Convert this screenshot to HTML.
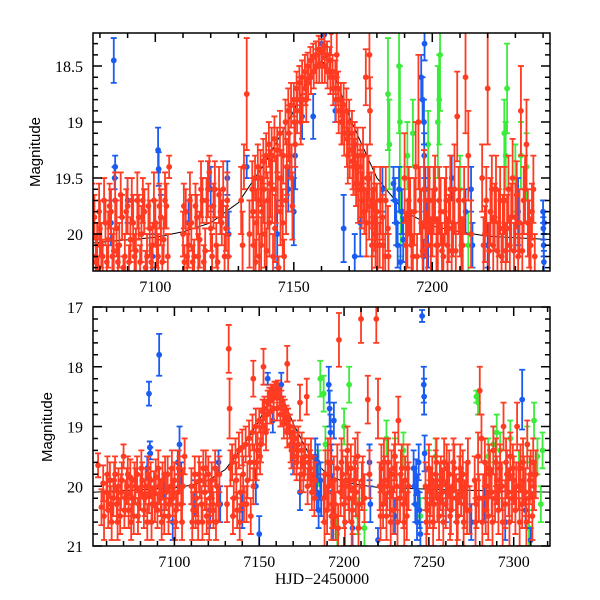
<!DOCTYPE html>
<html><head><meta charset="utf-8"><style>
body{margin:0;background:#fff;}
svg{display:block;}
.tk{font-family:"Liberation Serif",serif;font-size:16px;fill:#000;}
.ax{font-family:"Liberation Sans",sans-serif;font-size:15px;fill:#000;}
</style></head><body>
<svg id="chart" width="600" height="600" viewBox="0 0 600 600" xmlns="http://www.w3.org/2000/svg">
<defs>
<clipPath id="c1"><rect x="93" y="33" width="457" height="238"/></clipPath>
<clipPath id="c2"><rect x="93" y="307" width="457" height="239"/></clipPath>
</defs>
<g id="p1"></g>
<g id="p2"></g>
<text class="ax" transform="translate(40,152) rotate(-90)" text-anchor="middle">Magnitude</text>
<text class="ax" transform="translate(52,427) rotate(-90)" text-anchor="middle">Magnitude</text>
<text class="tk" x="322" y="584" text-anchor="middle">HJD−2450000</text>
</svg>
<script>
// ---- data ----
const modelTop = [[7077,20.08],[7100,20.03],[7110,19.98],[7120,19.9],[7130,19.72],[7140,19.35],[7150,18.9],[7155,18.62],[7160,18.45],[7165,18.6],[7170,18.95],[7180,19.5],[7190,19.8],[7200,19.93],[7210,19.98],[7220,20.02],[7243,20.05]];
const modelBot = [[7052,20.1],[7100,20.03],[7110,19.98],[7120,19.9],[7130,19.72],[7140,19.35],[7150,18.9],[7155,18.62],[7160,18.45],[7165,18.6],[7170,18.95],[7180,19.5],[7190,19.8],[7200,19.93],[7210,19.98],[7220,20.02],[7260,20.06],[7322,20.1]];

const redTop = [[7077,20.0,.2],[7077.5,20.25,.15],[7078,19.85,.2],[7079,20.1,.2],[7079.5,20.3,.1],[7080,19.95,.25],[7081,20.2,.15],[7082,19.9,.2],[7083,20.05,.25],[7084,19.8,.2],[7085,20.15,.2],[7086,19.95,.25],[7087,20.1,.2],[7088,19.85,.2],[7088.5,20.3,.1],[7089,20.2,.2],[7090,19.75,.25],[7091,20.05,.2],[7092,19.9,.25],[7093,20.15,.2],[7094,19.85,.2],[7095,20.0,.25],[7096,19.8,.2],[7096.5,20.3,.15],[7097,20.2,.2],[7098,19.95,.25],[7099,20.1,.2],[7100,19.9,.2],[7101,20.2,.2],[7102,19.85,.25],[7103,20.05,.2],[7104,19.75,.2],[7105,19.4,.1],
[7110,20.0,.2],[7110.5,20.25,.15],[7111,19.8,.2],[7112,20.1,.2],[7113,19.9,.25],[7114,20.2,.15],[7115,19.85,.2],[7116,20.05,.25],[7117,19.7,.2],[7118,20.15,.2],[7119,19.6,.25],[7119.5,19.45,.15],[7120,19.95,.2],[7121,19.75,.2],[7122,20.1,.2],[7123,19.65,.25],[7124,19.9,.2],[7125,20.2,.2],[7126,19.7,.25],
[7131,19.7,.3],[7131.5,20.1,.3],[7132,19.4,.2],[7133,18.75,.5],[7134,20.0,.3],
[7135,19.6,.25],[7135.5,20.1,.25],[7136,19.5,.2],[7136.5,19.9,.3],[7137,19.4,.2],[7137.5,20.2,.2],[7138,19.5,.25],[7138.5,19.8,.3],[7139,19.35,.2],[7139.5,20.0,.3],[7140,19.3,.2],[7140.5,19.7,.25],[7141,19.2,.2],[7141.5,19.55,.3],[7142,19.3,.25],[7142.5,20.2,.2],[7143,19.15,.2],[7143.5,19.6,.3],[7144,19.25,.2],[7144.5,20.3,.1],[7145,19.1,.2],[7145.5,19.5,.25],[7146,19.9,.3],[7146.5,20.2,.15],[7147,19.0,.2],[7147.5,19.4,.25],[7148,18.9,.2],[7148.5,19.3,.2],[7149,18.85,.2],[7149.5,19.75,.3],[7150,18.8,.15],[7150.5,19.2,.2],[7151,18.7,.15],[7152,18.65,.15],[7152.5,19.0,.2],[7153,18.6,.15],[7154,18.55,.15],[7154.5,18.8,.2],[7155,18.5,.12],[7156,18.45,.12],[7157,18.42,.12],[7158,18.4,.12],[7159,18.35,.12],[7160,18.38,.12],[7161,18.32,.12],[7162,18.4,.12],[7163,18.45,.12],[7163.5,18.2,.2],[7164,18.55,.15],[7165,18.6,.15],[7165.5,18.4,.2],[7166,18.7,.15],[7167,18.8,.15],[7167.5,19.0,.2],[7168,18.85,.2],[7169,18.9,.2],[7169.5,19.3,.25],[7170,19.0,.2],[7171,19.1,.2],[7171.5,19.4,.25],[7172,19.2,.2],[7172.5,19.55,.2],[7173,19.3,.25],[7174,19.4,.2],[7174.5,19.7,.25],[7175,19.3,.25],[7175.5,19.8,.2],[7176,18.6,.25],[7176.5,19.5,.3],[7177,19.5,.2],[7177.3,18.4,.3],[7177.5,18.9,.3],[7178,19.7,.25],[7178.5,19.9,.3],[7179,19.6,.2],[7179.5,20.0,.3],[7180,19.8,.25],[7181,20.1,.2],[7182,19.85,.2],[7183,20.2,.2],[7184,19.95,.2],
[7190,19.5,.4],[7191,20.0,.3],[7192,19.8,.3],[7193,20.2,.2],[7194,19.4,.4],[7195,19.0,.6],[7196,19.9,.3],[7197,19.6,.35],[7198,20.1,.3],[7199,19.7,.3],[7200,19.9,.3],[7201,19.6,.3],[7202,20.1,.25],[7203,19.8,.3],[7204,20.2,.2],[7205,19.7,.3],[7206,19.95,.3],[7207,20.15,.25],[7208,19.6,.4],[7209,18.95,.4],[7210,19.9,.3],[7211,20.1,.25],[7212,18.6,.5],[7213,19.3,.4],[7214,20.0,.3],
[7218,19.5,.3],[7219,20.0,.25],[7220,18.7,.5],[7221,19.8,.3],[7222,20.1,.25],[7223,19.6,.3],[7224,19.9,.3],[7225,20.2,.2],[7226,19.7,.3],[7227,19.95,.3],[7228,20.1,.25],[7229,19.5,.35],[7230,19.85,.3],[7231,20.2,.2],[7232,18.9,.4],[7233,19.7,.3],[7234,19.2,.4],[7235,20.0,.3],[7236,19.8,.25],[7237,20.2,.2]];

const redTop2 = [[7077.3,19.75,.2],[7078.5,20.2,.2],[7079.7,19.8,.25],[7080.5,20.1,.2],[7081.5,19.7,.2],[7082.5,20.25,.15],[7083.5,19.75,.2],[7084.5,20.2,.2],[7085.5,19.7,.25],[7086.5,20.25,.15],[7087.5,19.65,.2],[7089.5,19.8,.2],[7090.5,20.25,.15],[7091.5,19.7,.2],[7092.5,20.2,.2],[7093.5,19.7,.25],[7094.5,20.25,.15],[7095.5,19.7,.2],[7097.5,19.75,.2],[7098.5,20.25,.15],[7099.5,19.7,.25],[7100.5,20.1,.2],[7101.5,19.75,.2],[7102.5,20.25,.15],[7103.5,19.7,.25],[7104.5,20.2,.2],
[7110.3,19.75,.2],[7111.5,20.2,.2],[7112.5,19.7,.25],[7113.5,20.25,.15],[7114.5,19.75,.2],[7115.5,20.2,.2],[7116.5,19.6,.25],[7117.5,20.25,.15],[7118.5,19.7,.2],[7120.5,20.2,.2],[7121.5,19.6,.25],[7122.5,20.25,.15],[7123.5,19.8,.2],[7124.5,19.6,.25],[7125.5,19.95,.2],[7126.3,20.2,.2],
[7135.3,19.8,.3],[7136.2,20.25,.2],[7137.2,19.7,.3],[7138.2,20.1,.25],[7139.2,19.6,.3],[7140.2,20.15,.2],[7141.2,19.9,.3],[7142.2,19.6,.3],[7143.2,19.95,.3],[7144.2,19.5,.3],[7145.2,19.8,.3],[7146.2,19.3,.25],[7147.2,19.7,.3],[7148.2,19.1,.25],[7149.2,19.5,.3],[7150.2,19.0,.2],[7151.2,18.9,.2],[7152.2,18.8,.2],[7153.2,18.8,.2],[7154.2,18.7,.15],[7155.2,18.65,.15],[7156.2,18.6,.15],[7157.2,18.55,.15],[7158.2,18.5,.15],[7159.2,18.5,.15],[7160.2,18.5,.15],[7161.2,18.5,.15],[7162.2,18.55,.15],[7163.2,18.6,.15],[7164.2,18.7,.15],[7165.2,18.8,.2],[7166.2,18.9,.2],[7167.2,19.0,.2],[7168.2,19.1,.2],[7169.2,19.15,.25],[7170.2,19.25,.25],[7171.2,19.35,.25],[7172.2,19.4,.25],[7173.2,19.6,.3],[7174.2,19.55,.3],[7175.2,19.6,.3],[7176.2,19.9,.3],[7177.2,19.75,.3],[7178.2,20.1,.25],[7179.2,19.85,.3],[7180.2,20.1,.25],[7181.2,19.7,.3],[7182.2,20.1,.25],[7183.2,19.7,.3],[7184.2,20.2,.2],
[7190.5,20.1,.3],[7191.5,19.7,.3],[7192.5,20.1,.3],[7193.5,19.8,.3],[7194.5,20.2,.2],[7195.5,19.7,.3],[7196.5,20.15,.25],[7197.5,19.9,.3],[7198.5,19.7,.3],[7199.5,20.1,.25],[7200.5,19.7,.3],[7201.5,20.1,.25],[7202.5,19.7,.3],[7203.5,20.15,.25],[7204.5,19.8,.3],[7205.5,20.1,.25],[7206.5,19.6,.3],[7207.5,19.9,.3],[7208.5,20.15,.25],[7209.5,19.7,.3],[7210.5,20.1,.25],[7211.5,19.7,.3],
[7218.5,20.1,.25],[7219.5,19.7,.3],[7220.5,20.15,.25],[7221.5,19.6,.3],[7222.5,19.85,.3],[7223.5,20.15,.25],[7224.5,19.7,.3],[7225.5,19.95,.3],[7226.5,20.15,.25],[7227.5,19.6,.3],[7228.5,19.85,.3],[7229.5,20.15,.25],[7230.5,19.65,.3],[7231.5,19.9,.3],[7232.5,20.15,.25],[7233.5,19.6,.3],[7234.5,19.9,.3],[7235.5,20.1,.25],[7236.5,19.6,.3]];

const blueTop = [[7085,18.45,.2],[7085.5,19.4,.1],[7085.3,19.5,.1],[7084,19.9,.2],[7090,19.7,.2],[7096,19.8,.2],[7101,19.25,.2],[7101.2,19.42,.15],[7102,19.85,.2],[7099,20.2,.2],[7112,19.9,.2],[7120,19.6,.2],[7126,19.5,.15],[7126.5,20.0,.2],[7133,19.4,.1],[7144,20.0,.3],[7148,19.6,.2],[7150,19.8,.3],[7150.5,19.3,.3],[7153,18.95,.2],[7157,18.95,.2],[7160,18.3,.2],[7161,18.22,.2],[7165,18.9,.1],[7168,19.95,.3],[7172,20.2,.2],[7174,19.9,.3],[7182,19.6,.2],
[7186,19.55,.15],[7186.5,19.7,.2],[7187,19.9,.2],[7187.5,20.1,.2],[7188,19.6,.2],[7188.5,20.25,.15],[7189,19.8,.2],[7189.5,20.05,.2],
[7196,18.6,.2],[7196.5,18.8,.2],[7197,19.0,.2],[7197.1,19.3,.2],[7197.5,19.6,.2],[7198,19.9,.2],[7196.8,20.2,.15],[7197.2,18.3,.15],[7198.5,20.1,.2],[7207,19.5,.2],[7212,19.8,.2],[7214,19.6,.2],[7214.5,20.1,.2],[7220,20.1,.2],[7231,19.8,.3],
[7240,19.8,.1],[7240.1,19.95,.1],[7240.2,20.1,.1],[7240.3,20.25,.1],[7240.4,19.9,.1]];

const greenTop = [[7184,18.75,.5],[7184.5,19.2,.4],[7188,18.5,.6],[7188.3,19.0,.5],[7188.6,19.8,.4],[7191,19.3,.3],[7193,19.1,.3],[7198.5,19.2,.3],[7202,19.0,.5],[7202.5,18.8,.4],[7202.8,18.4,.5],[7210,19.6,.3],[7213,20.1,.3],[7226,19.1,.3],[7226.5,19.3,.3],[7227,18.7,.4],[7230,19.5,.3],[7232,19.3,.3],[7234,19.4,.3]];

const redBot = [[7055,19.65,.2],[7057,20.35,.3],[7058,19.95,.3],[7058.5,20.5,.4],[7060,20.1,.3],[7061,20.4,.3],[7062,19.9,.3],[7063,20.6,.3],[7064,20.2,.3],[7065,19.8,.3],[7066,20.3,.3],[7067,20.0,.3],[7068,20.5,.3],[7069,19.9,.3],[7070,19.5,.2],[7071,20.2,.3],[7072,20.0,.3],[7073,20.4,.3],[7074,19.85,.3],[7075,20.2,.3],[7076,20.5,.3],[7077,20.0,.3],[7078,19.8,.3],[7079,20.3,.3],[7080,20.1,.3],[7081,19.9,.3],[7082,20.4,.3],[7083,20.0,.3],[7084,20.6,.3],[7085,20.15,.3],[7086,19.9,.3],[7087,20.3,.3],[7088,20.05,.3],[7089,19.85,.3],[7090,20.4,.3],[7091,20.0,.3],[7092,20.2,.3],[7093,19.9,.3],[7094,20.5,.3],[7095,20.1,.3],[7096,19.8,.3],[7097,20.3,.3],[7098,20.0,.3],[7099,20.2,.3],[7100,19.9,.3],[7101,20.4,.3],[7102,20.1,.3],[7103,19.8,.3],[7104,20.3,.3],[7105,20.0,.3],[7106,19.5,.3],
[7110,20.0,.3],[7111,20.4,.3],[7112,19.8,.3],[7113,20.2,.3],[7114,20.6,.3],[7115,19.9,.3],[7116,20.3,.3],[7117,19.7,.3],[7118,20.1,.3],[7119,20.5,.3],[7120,19.8,.3],[7121,20.2,.3],[7122,19.9,.3],[7123,20.4,.3],[7124,19.7,.3],[7125,20.0,.3],[7126,20.3,.3],
[7131,20.3,.3],[7132,17.7,.4],[7132.5,18.7,.5],[7133,19.7,.3],
[7134,19.6,.3],[7135,20.2,.3],[7136,19.5,.3],[7137,20.4,.3],[7138,19.4,.3],[7139,20.1,.3],[7140,19.35,.3],[7141,20.3,.3],[7142,19.3,.3],[7143,19.9,.3],[7144,19.2,.3],[7145,20.5,.3],[7146,19.1,.3],[7146.5,18.2,.3],[7147,19.6,.3],[7148,19.0,.3],[7149,19.4,.3],[7150,18.9,.2],[7151,19.3,.3],[7152,18.75,.2],[7152.5,18.0,.3],[7153,18.7,.2],[7154,19.1,.3],[7155,18.6,.2],[7156,18.5,.15],[7157,18.45,.15],[7158,18.45,.15],[7159,18.4,.15],[7160,18.4,.15],[7161,18.38,.15],[7162,18.5,.15],[7163,18.55,.15],[7164,18.7,.2],[7165,18.75,.2],[7166,18.85,.2],[7166.5,17.95,.3],[7167,18.9,.2],[7168,19.0,.2],[7169,19.4,.3],[7170,19.1,.2],[7171,19.2,.2],[7172,19.6,.3],[7173,19.3,.3],[7174,18.6,.3],[7175,19.4,.3],[7176,19.8,.3],[7177,19.5,.3],[7178,18.5,.3],[7179,19.6,.3],[7180,19.7,.3],[7181,20.1,.3],[7182,19.8,.3],[7183,19.9,.3],
[7188,20.2,.4],[7189,19.8,.4],[7190,20.4,.4],[7191,20.0,.4],[7192,19.6,.4],[7193,20.3,.4],[7194,19.9,.4],[7195,20.5,.4],[7196,19.7,.4],[7197,17.55,.45],[7198,20.1,.4],[7199,19.8,.4],[7200,20.3,.4],[7201,19.9,.4],[7202,19.4,.4],[7203,20.2,.4],[7204,19.7,.4],[7205,20.4,.4],[7206,19.9,.4],[7207,20.1,.4],[7208,19.5,.4],[7209,20.3,.4],[7210,17.2,.4],[7211,19.9,.4],[7212,20.2,.4],[7214,18.55,.4],[7215,19.8,.4],
[7219,17.2,.4],[7220,18.7,.5],[7221,20.0,.4],[7222,19.7,.4],[7223,20.3,.4],[7224,19.9,.4],[7225,20.5,.4],[7226,19.6,.4],[7227,20.1,.4],[7228,19.8,.4],[7229,20.4,.4],[7230,19.5,.4],[7231,20.0,.4],[7232,18.9,.4],[7233,20.2,.4],[7234,19.7,.4],[7235,20.3,.4],[7236,19.9,.4],[7237,20.5,.4],[7238,20.0,.4],
[7248,20.0,.4],[7249,20.4,.4],[7250,19.7,.4],[7251,20.1,.4],[7252,19.9,.4],[7253,20.3,.4],[7254,19.8,.4],[7255,20.2,.4],[7256,20.5,.4],[7257,19.9,.4],[7258,20.1,.4],[7259,19.6,.4],[7260,20.3,.4],[7261,20.0,.4],[7262,19.8,.4],[7263,20.4,.4],[7264,20.0,.4],[7265,19.7,.4],[7266,20.2,.4],[7267,20.5,.4],[7268,19.9,.4],[7269,20.1,.4],[7270,19.8,.4],[7271,20.3,.4],[7272,20.0,.4],[7273,19.6,.4],[7274,20.4,.4],
[7277,19.9,.4],[7278,20.3,.4],[7279,19.5,.4],[7280,18.4,.4],[7281,19.2,.4],[7282,20.2,.4],[7283,19.6,.4],[7284,20.0,.4],[7285,20.5,.4],[7286,19.8,.4],[7287,20.1,.4],[7288,19.4,.4],[7289,20.2,.4],[7290,19.9,.4],[7291,20.4,.4],[7292,19.7,.4],[7293,20.0,.4],[7294,19.0,.4],[7295,20.3,.4],[7296,19.8,.4],[7297,20.1,.4],[7298,19.5,.4],[7299,20.2,.4],[7300,19.9,.4],[7301,20.4,.4],[7302,19.0,.4],[7303,20.0,.4],[7304,19.7,.4],[7305,20.3,.4],[7306,19.9,.4],[7307,20.1,.4],[7308,19.3,.4],[7309,20.2,.4],[7310,19.8,.4],[7311,20.5,.4],[7312,20.0,.4],[7313,19.8,.4]];

const redBot2 = [[7060.5,19.8,.3],[7062.5,20.3,.3],[7064.5,19.9,.3],[7066.5,20.6,.3],[7068.5,20.1,.3],[7070.5,20.4,.3],[7072.5,19.8,.3],[7074.5,20.6,.3],[7076.5,19.9,.3],[7078.5,20.5,.3],[7080.5,19.7,.3],[7082.5,20.2,.3],[7084.5,19.8,.3],[7086.5,20.6,.3],[7088.5,20.3,.3],[7090.5,19.7,.3],[7092.5,20.6,.3],[7094.5,19.8,.3],[7096.5,20.5,.3],[7098.5,19.7,.3],[7100.5,20.6,.3],[7102.5,19.7,.3],[7104.5,20.6,.3],
[7110.5,20.6,.3],[7112.5,20.4,.3],[7114.5,19.8,.3],[7116.5,20.6,.3],[7118.5,19.7,.3],[7120.5,20.6,.3],[7122.5,20.3,.3],[7124.5,20.6,.3],[7126.5,19.8,.3],
[7134.5,20.5,.3],[7136.5,19.9,.3],[7138.5,20.6,.3],[7140.5,19.8,.3],[7142.5,20.3,.3],[7144.5,19.6,.3],[7146.5,20.0,.3],[7148.5,19.6,.3],[7150.5,19.5,.3],[7152.2,19.0,.3],[7154.5,18.8,.25],[7156.5,18.75,.2],[7158.5,18.7,.2],[7160.5,18.7,.2],[7162.5,18.8,.2],[7164.5,18.95,.25],[7166.5,19.1,.25],[7168.5,19.3,.3],[7170.5,19.5,.3],[7172.5,19.4,.3],[7174.5,19.8,.3],[7176.5,19.6,.3],[7178.5,20.0,.3],[7180.5,19.5,.3],[7182.5,20.2,.3],
[7188.5,20.6,.4],[7190.5,19.6,.4],[7192.5,20.5,.4],[7194.5,20.3,.4],[7196.5,20.7,.4],[7198.5,19.6,.4],[7200.5,20.6,.4],[7202.5,20.0,.4],[7204.5,20.6,.4],[7206.5,19.6,.4],[7208.5,20.7,.4],[7210.5,20.0,.4],
[7221.5,20.5,.4],[7223.5,19.6,.4],[7225.5,20.0,.4],[7227.5,20.6,.4],[7229.5,19.7,.4],[7231.5,20.6,.4],[7233.5,19.8,.4],[7235.5,20.6,.4],[7237.5,19.7,.4],
[7248.5,20.6,.4],[7250.5,20.3,.4],[7252.5,20.6,.4],[7254.5,19.6,.4],[7256.5,20.0,.4],[7258.5,20.6,.4],[7260.5,19.7,.4],[7262.5,20.5,.4],[7264.5,19.6,.4],[7266.5,20.6,.4],[7268.5,19.7,.4],[7270.5,20.6,.4],[7272.5,20.4,.4],
[7277.5,20.6,.4],[7279.5,20.2,.4],[7281.5,20.6,.4],[7283.5,20.4,.4],[7285.5,19.7,.4],[7287.5,20.6,.4],[7289.5,19.6,.4],[7291.5,20.0,.4],[7293.5,20.6,.4],[7295.5,19.6,.4],[7297.5,20.6,.4],[7299.5,19.7,.4],[7301.5,20.0,.4],[7303.5,20.6,.4],[7305.5,19.6,.4],[7307.5,20.6,.4],[7309.5,19.9,.4],[7311.5,19.6,.4]];

const blueBot = [[7085,18.45,.2],[7091,17.8,.35],[7085.5,19.35,.1],[7085.8,19.45,.1],[7084,19.7,.2],[7094,20.1,.3],[7103,19.3,.3],[7102,19.6,.2],[7104,19.8,.2],[7099,20.6,.3],[7112,20.2,.3],[7121,20.4,.3],[7126,19.6,.2],[7127,20.3,.3],[7140,20.4,.3],[7148,20.0,.3],[7150,20.8,.3],[7155,18.2,.1],[7158,18.9,.2],[7163,18.3,.2],[7170,19.5,.3],[7174,20.1,.3],
[7183,19.5,.3],[7183.5,19.8,.3],[7184,20.1,.3],[7184.5,19.6,.3],[7185,20.4,.3],[7186,19.9,.3],[7186.5,20.2,.3],[7191,18.3,.3],[7191.5,18.7,.3],[7192,19.1,.3],[7192.5,19.6,.3],[7193,20.1,.3],[7193.5,20.6,.3],[7194,18.9,.3],[7205,20.7,.3],[7215,19.6,.3],[7215.5,20.3,.3],[7220,20.9,.2],[7230,20.5,.3],
[7241,19.7,.3],[7241.5,20.0,.3],[7242,20.3,.3],[7242.5,19.85,.3],[7243,20.6,.3],[7243.5,20.1,.3],[7244,19.6,.3],[7244.5,20.4,.3],[7245,20.8,.2],[7246,17.15,.1],[7247,18.3,.3],[7247.2,18.5,.3],[7247.5,19.45,.3],[7260,20.3,.3],[7275,20.6,.3],[7283,20.3,.3],[7295,20.6,.3],[7305,18.55,.5],[7307,20.4,.3],[7310,20.9,.2]];

const greenBot = [[7186,18.2,.3],[7188,18.45,.3],[7185,19.7,.3],[7189,19.3,.3],[7196,20.8,.3],[7200,19.0,.3],[7203,18.3,.3],[7208,20.5,.3],[7212,20.7,.3],[7225,19.2,.3],[7230,19.5,.3],[7235,19.4,.3],[7245,20.5,.3],[7250,19.7,.3],[7254,19.5,.3],[7278,18.5,.1],[7279,18.6,.2],[7285,19.5,.3],[7288,19.3,.3],[7290,19.1,.3],[7292,19.4,.3],[7298,19.2,.3],[7303,19.7,.3],[7308,19.3,.3],[7312,18.9,.3],[7314,19.5,.3],[7316,20.3,.3],[7317,19.4,.3],[7309,20.7,.3]];

const xTicksTop = [7100,7150,7200];
const yTicksTop = [18.5,19,19.5,20];
const xTicksBot = [7100,7150,7200,7250,7300];
const yTicksBot = [17,18,19,20,21];

// ---- drawing ----
const NS = "http://www.w3.org/2000/svg";
const RED="#ff3b22", BLUE="#1a5cf2", GREEN="#3bec3b";
function mk(tag, attrs, parent){const e=document.createElementNS(NS,tag);for(const k in attrs)e.setAttribute(k,attrs[k]);parent.appendChild(e);return e;}

function panel(g, box, xd, yd, clip, model, series, xTicks, yTicks, xMinor, yMinor, yLabelFmt){
  const X=t=>box.x+(t-xd[0])/(xd[1]-xd[0])*box.w;
  const Y=m=>box.y+(m-yd[0])/(yd[1]-yd[0])*box.h;
  const data=mk('g',{'clip-path':'url(#'+clip+')'},g);
  
  
  const mp=mk('polyline',{points:model.map(p=>X(p[0]).toFixed(1)+','+Y(p[1]).toFixed(1)).join(' '),fill:'none',stroke:'#000','stroke-width':1},data);
  
  
  series.forEach(s=>{
    const sg=mk('g',{},data);
    
    
    s.pts.forEach(p=>{
      const x=X(p[0]), y0=Y(p[1]-p[2]), y1=Y(p[1]+p[2]), y=Y(p[1]);
      const eb=mk('path',{d:`M${x},${y0}V${y1}M${x-3},${y0}h6M${x-3},${y1}h6`,stroke:s.c,'stroke-width':1.8,fill:'none'},sg);
      
      
      const c=mk('circle',{cx:x,cy:y,r:2.9,fill:s.c},sg);
      
      
    });
  });
  const fr=mk('rect',{x:box.x,y:box.y,width:box.w,height:box.h,fill:'none',stroke:'#000','stroke-width':1.5},g);
  
  
  let d='';
  for(let t=Math.ceil(xd[0]/xMinor)*xMinor;t<=xd[1];t+=xMinor){
    const major=xTicks.includes(t)||Math.abs(t%50)<1e-6; const L=major?9:5; const x=X(t);
    d+=`M${x},${box.y+box.h}v${-L}M${x},${box.y}v${L}`;
  }
  const n0=Math.ceil(yd[0]/yMinor-1e-6), n1=Math.floor(yd[1]/yMinor+1e-6);
  for(let n=n0;n<=n1;n++){
    const m=n*yMinor; const major=yTicks.some(v=>Math.abs(v-m)<1e-6); const L=major?9:5; const y=Y(m);
    d+=`M${box.x},${y}h${L}M${box.x+box.w},${y}h${-L}`;
  }
  const tk=mk('path',{d:d,stroke:'#000','stroke-width':1.5,fill:'none'},g);
  
  
  xTicks.forEach(t=>{
    const e=mk('text',{x:X(t),y:box.y+box.h+21,'text-anchor':'middle',class:'tk'},g);
    e.textContent=t;
    
    
  });
  yTicks.forEach(m=>{
    const e=mk('text',{x:box.x-10,y:Y(m)+6,'text-anchor':'end',class:'tk'},g);
    e.textContent=yLabelFmt(m);
    
    
  });
}

panel(document.getElementById('p1'),{x:93,y:33,w:457,h:238},[7077.5,7242.5],[18.205,20.33],'c1',modelTop,
  [{name:'green-series',c:GREEN,pts:greenTop},{name:'blue-series',c:BLUE,pts:blueTop},{name:'red-series',c:RED,pts:redTop},{name:'red-series-extra',c:RED,pts:redTop2}],
  xTicksTop,yTicksTop,10,0.1,m=>String(m));
panel(document.getElementById('p2'),{x:93,y:307,w:457,h:239},[7052,7321.4],[17,21],'c2',modelBot,
  [{name:'green-series',c:GREEN,pts:greenBot},{name:'blue-series',c:BLUE,pts:blueBot},{name:'red-series',c:RED,pts:redBot},{name:'red-series-extra',c:RED,pts:redBot2}],
  xTicksBot,yTicksBot,10,0.2,m=>String(m));
</script>
</body></html>
